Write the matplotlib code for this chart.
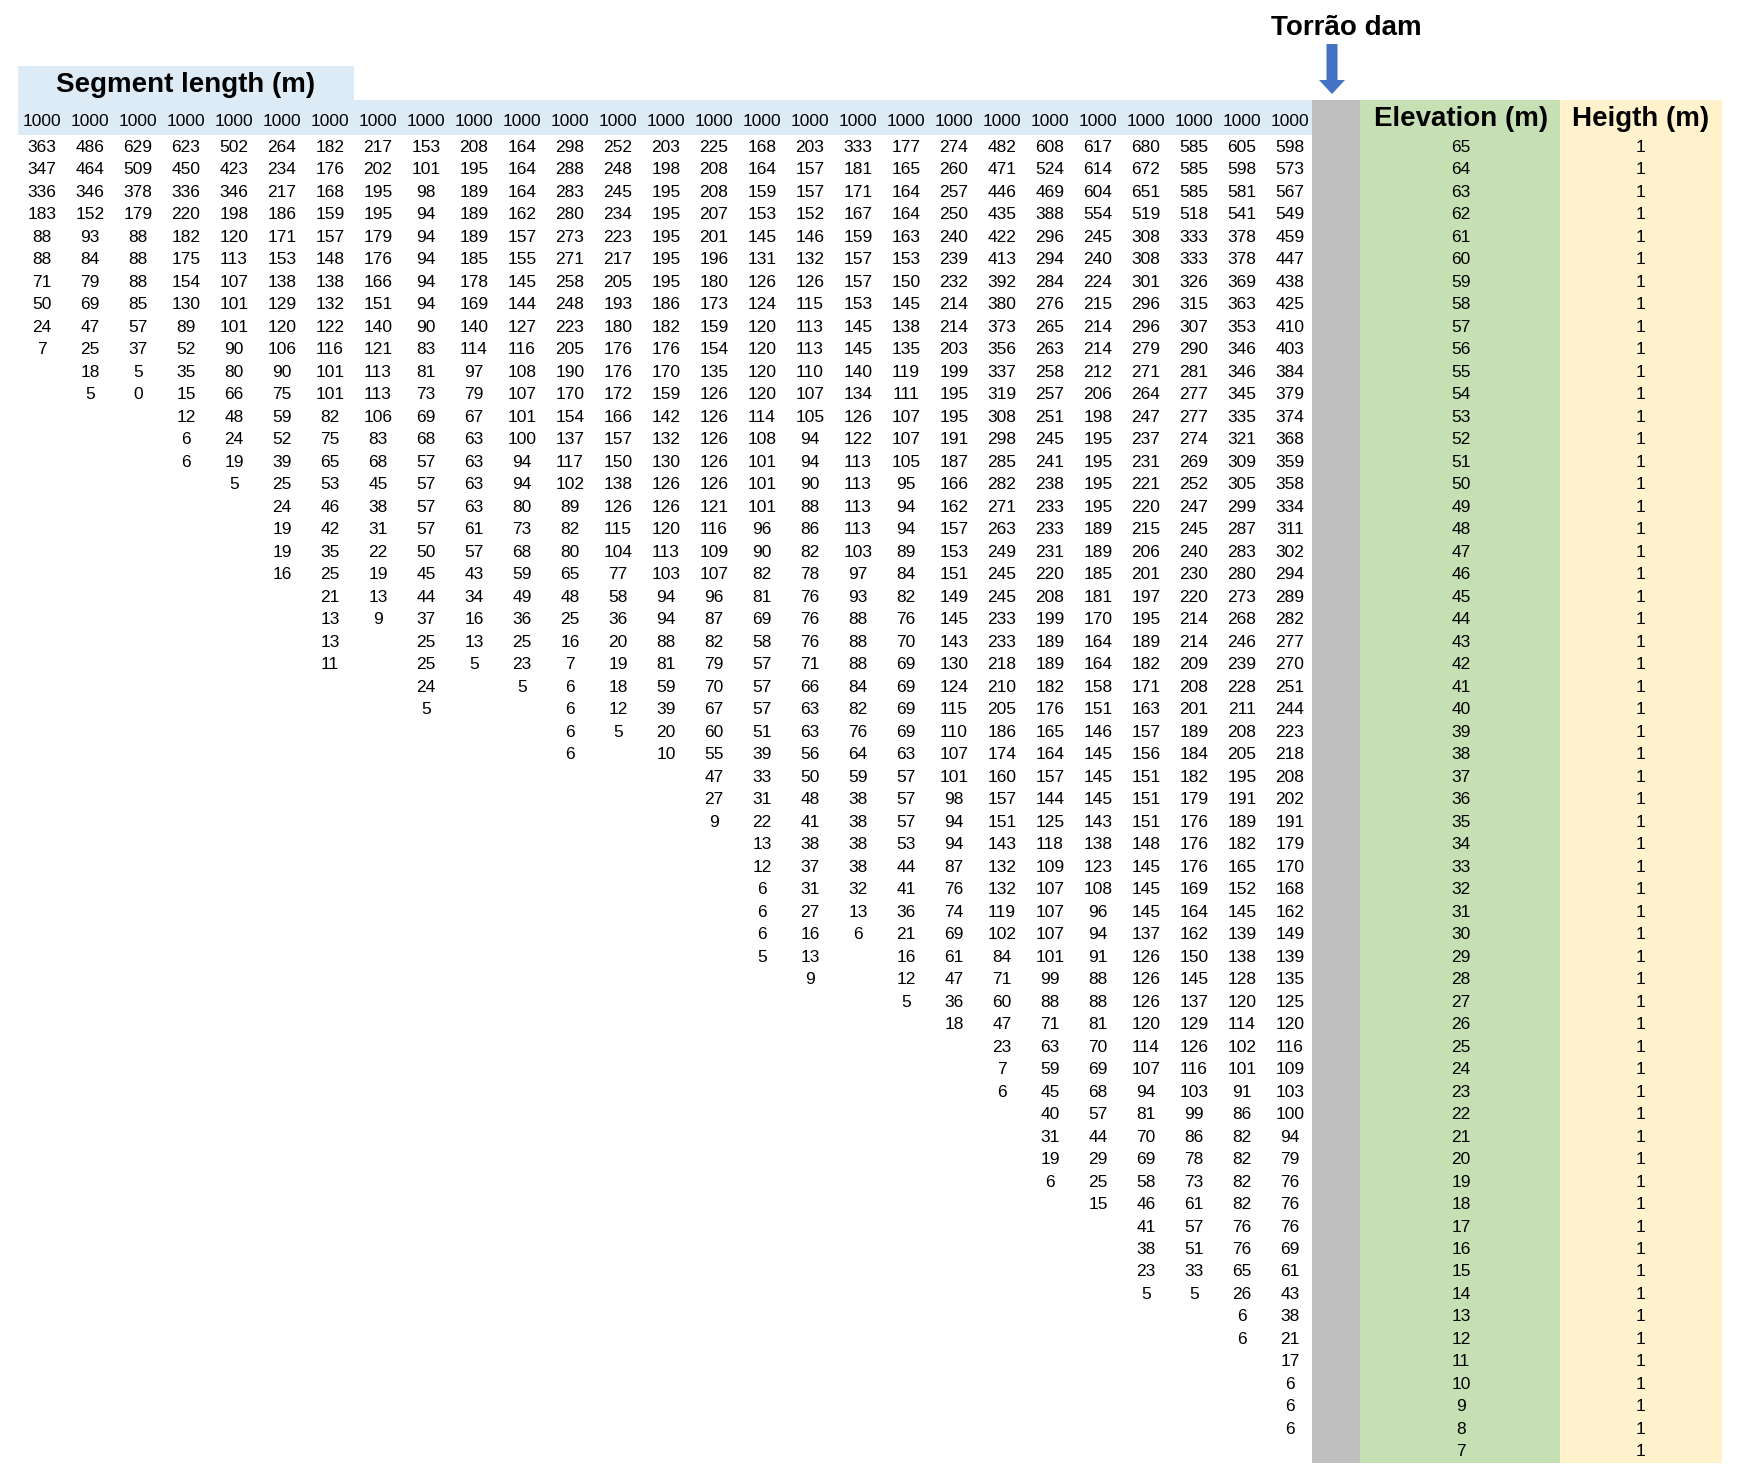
import matplotlib.pyplot as plt
from matplotlib.patches import Rectangle, FancyArrow
from matplotlib import transforms

plt.rcParams["font.family"] = ["Liberation Sans", "DejaVu Sans"]

# --- 데이터: 각 열(구간)의 segment length (m), 위(표고 65 m)부터 아래로 ---
seg01 = [363, 347, 336, 183, 88, 88, 71, 50, 24, 7]
seg02 = [486, 464, 346, 152, 93, 84, 79, 69, 47, 25, 18, 5]
seg03 = [629, 509, 378, 179, 88, 88, 88, 85, 57, 37, 5, 0]
seg04 = [623, 450, 336, 220, 182, 175, 154, 130, 89, 52, 35, 15, 12, 6, 6]
seg05 = [502, 423, 346, 198, 120, 113, 107, 101, 101, 90, 80, 66, 48, 24, 19, 5]
seg06 = [264, 234, 217, 186, 171, 153, 138, 129, 120, 106, 90, 75, 59, 52, 39, 25,
         24, 19, 19, 16]
seg07 = [182, 176, 168, 159, 157, 148, 138, 132, 122, 116, 101, 101, 82, 75, 65, 53,
         46, 42, 35, 25, 21, 13, 13, 11]
seg08 = [217, 202, 195, 195, 179, 176, 166, 151, 140, 121, 113, 113, 106, 83, 68, 45,
         38, 31, 22, 19, 13, 9]
seg09 = [153, 101, 98, 94, 94, 94, 94, 94, 90, 83, 81, 73, 69, 68, 57, 57, 57, 57, 50,
         45, 44, 37, 25, 25, 24, 5]
seg10 = [208, 195, 189, 189, 189, 185, 178, 169, 140, 114, 97, 79, 67, 63, 63, 63, 63,
         61, 57, 43, 34, 16, 13, 5]
seg11 = [164, 164, 164, 162, 157, 155, 145, 144, 127, 116, 108, 107, 101, 100, 94, 94,
         80, 73, 68, 59, 49, 36, 25, 23, 5]
seg12 = [298, 288, 283, 280, 273, 271, 258, 248, 223, 205, 190, 170, 154, 137, 117, 102,
         89, 82, 80, 65, 48, 25, 16, 7, 6, 6, 6, 6]
seg13 = [252, 248, 245, 234, 223, 217, 205, 193, 180, 176, 176, 172, 166, 157, 150, 138,
         126, 115, 104, 77, 58, 36, 20, 19, 18, 12, 5]
seg14 = [203, 198, 195, 195, 195, 195, 195, 186, 182, 176, 170, 159, 142, 132, 130, 126,
         126, 120, 113, 103, 94, 94, 88, 81, 59, 39, 20, 10]
seg15 = [225, 208, 208, 207, 201, 196, 180, 173, 159, 154, 135, 126, 126, 126, 126, 126,
         121, 116, 109, 107, 96, 87, 82, 79, 70, 67, 60, 55, 47, 27, 9]
seg16 = [168, 164, 159, 153, 145, 131, 126, 124, 120, 120, 120, 120, 114, 108, 101, 101,
         101, 96, 90, 82, 81, 69, 58, 57, 57, 57, 51, 39, 33, 31, 22, 13, 12, 6, 6, 6, 5]
seg17 = [203, 157, 157, 152, 146, 132, 126, 115, 113, 113, 110, 107, 105, 94, 94, 90,
         88, 86, 82, 78, 76, 76, 76, 71, 66, 63, 63, 56, 50, 48, 41, 38, 37, 31, 27, 16,
         13, 9]
seg18 = [333, 181, 171, 167, 159, 157, 157, 153, 145, 145, 140, 134, 126, 122, 113, 113,
         113, 113, 103, 97, 93, 88, 88, 88, 84, 82, 76, 64, 59, 38, 38, 38, 38, 32, 13, 6]
seg19 = [177, 165, 164, 164, 163, 153, 150, 145, 138, 135, 119, 111, 107, 107, 105, 95,
         94, 94, 89, 84, 82, 76, 70, 69, 69, 69, 69, 63, 57, 57, 57, 53, 44, 41, 36, 21,
         16, 12, 5]
seg20 = [274, 260, 257, 250, 240, 239, 232, 214, 214, 203, 199, 195, 195, 191, 187, 166,
         162, 157, 153, 151, 149, 145, 143, 130, 124, 115, 110, 107, 101, 98, 94, 94, 87,
         76, 74, 69, 61, 47, 36, 18]
seg21 = [482, 471, 446, 435, 422, 413, 392, 380, 373, 356, 337, 319, 308, 298, 285, 282,
         271, 263, 249, 245, 245, 233, 233, 218, 210, 205, 186, 174, 160, 157, 151, 143,
         132, 132, 119, 102, 84, 71, 60, 47, 23, 7, 6]
seg22 = [608, 524, 469, 388, 296, 294, 284, 276, 265, 263, 258, 257, 251, 245, 241, 238,
         233, 233, 231, 220, 208, 199, 189, 189, 182, 176, 165, 164, 157, 144, 125, 118,
         109, 107, 107, 107, 101, 99, 88, 71, 63, 59, 45, 40, 31, 19, 6]
seg23 = [617, 614, 604, 554, 245, 240, 224, 215, 214, 214, 212, 206, 198, 195, 195, 195,
         195, 189, 189, 185, 181, 170, 164, 164, 158, 151, 146, 145, 145, 145, 143, 138,
         123, 108, 96, 94, 91, 88, 88, 81, 70, 69, 68, 57, 44, 29, 25, 15]
seg24 = [680, 672, 651, 519, 308, 308, 301, 296, 296, 279, 271, 264, 247, 237, 231, 221,
         220, 215, 206, 201, 197, 195, 189, 182, 171, 163, 157, 156, 151, 151, 151, 148,
         145, 145, 145, 137, 126, 126, 126, 120, 114, 107, 94, 81, 70, 69, 58, 46, 41, 38,
         23, 5]
seg25 = [585, 585, 585, 518, 333, 333, 326, 315, 307, 290, 281, 277, 277, 274, 269, 252,
         247, 245, 240, 230, 220, 214, 214, 209, 208, 201, 189, 184, 182, 179, 176, 176,
         176, 169, 164, 162, 150, 145, 137, 129, 126, 116, 103, 99, 86, 78, 73, 61, 57, 51,
         33, 5]
seg26 = [605, 598, 581, 541, 378, 378, 369, 363, 353, 346, 346, 345, 335, 321, 309, 305,
         299, 287, 283, 280, 273, 268, 246, 239, 228, 211, 208, 205, 195, 191, 189, 182,
         165, 152, 145, 139, 138, 128, 120, 114, 102, 101, 91, 86, 82, 82, 82, 82, 76, 76,
         65, 26, 6, 6]
seg27 = [598, 573, 567, 549, 459, 447, 438, 425, 410, 403, 384, 379, 374, 368, 359, 358,
         334, 311, 302, 294, 289, 282, 277, 270, 251, 244, 223, 218, 208, 202, 191, 179,
         170, 168, 162, 149, 139, 135, 125, 120, 116, 109, 103, 100, 94, 79, 76, 76, 76, 69,
         61, 43, 38, 21, 17, 6, 6, 6]

columns = [seg01, seg02, seg03, seg04, seg05, seg06, seg07, seg08, seg09, seg10,
           seg11, seg12, seg13, seg14, seg15, seg16, seg17, seg18, seg19, seg20,
           seg21, seg22, seg23, seg24, seg25, seg26, seg27]

# 각 열 머리의 구간 길이
header_lengths = [1000, 1000, 1000, 1000, 1000, 1000, 1000, 1000, 1000, 1000,
                  1000, 1000, 1000, 1000, 1000, 1000, 1000, 1000, 1000, 1000,
                  1000, 1000, 1000, 1000, 1000, 1000, 1000]

elevation = [65, 64, 63, 62, 61, 60, 59, 58, 57, 56, 55, 54, 53, 52, 51, 50, 49, 48,
             47, 46, 45, 44, 43, 42, 41, 40, 39, 38, 37, 36, 35, 34, 33, 32, 31, 30,
             29, 28, 27, 26, 25, 24, 23, 22, 21, 20, 19, 18, 17, 16, 15, 14, 13, 12,
             11, 10, 9, 8, 7]
height = [1, 1, 1, 1, 1, 1, 1, 1, 1, 1, 1, 1, 1, 1, 1, 1, 1, 1, 1, 1,
          1, 1, 1, 1, 1, 1, 1, 1, 1, 1, 1, 1, 1, 1, 1, 1, 1, 1, 1, 1,
          1, 1, 1, 1, 1, 1, 1, 1, 1, 1, 1, 1, 1, 1, 1, 1, 1, 1, 1]

# --- 레이아웃 (픽셀) ---
W, H = 1740, 1482
COL1_X, COL_PITCH = 42, 48.0
ROW1_Y, ROW_PITCH = 147.5, 22.49

fig = plt.figure(figsize=(W / 100, H / 100), dpi=100)

# 배경용 축: 픽셀 좌표 (y는 위에서 아래로)
bg = fig.add_axes([0, 0, 1, 1])
bg.set_xlim(0, W)
bg.set_ylim(H, 0)
bg.axis("off")

# 표 본문용 축: x = 열 번호, y = 표고(m)
ax = fig.add_axes([0, 0, 1, 1])
ax.set_xlim(1 - COL1_X / COL_PITCH, 1 + (W - COL1_X) / COL_PITCH)
ax.set_ylim(65 - (H - ROW1_Y) / ROW_PITCH, 65 + ROW1_Y / ROW_PITCH)
ax.axis("off")
ax.patch.set_alpha(0)

# 배경 띠
blue, gray, green, yellow = "#DDEBF7", "#BFBFBF", "#C6E0B4", "#FFF2CC"
bg.add_patch(Rectangle((18, 66), 336, 34, color=blue, lw=0))
bg.add_patch(Rectangle((18, 100), 1294, 35, color=blue, lw=0))
bg.add_patch(Rectangle((1312, 100), 48, 1363, color=gray, lw=0))
bg.add_patch(Rectangle((1360, 100), 200, 1363, color=green, lw=0))
bg.add_patch(Rectangle((1560, 100), 162, 1363, color=yellow, lw=0))

# 댐 위치 화살표
bg.add_patch(FancyArrow(1332, 44, 0, 50, width=11, head_width=26, head_length=14,
                        length_includes_head=True, color="#4472C4", lw=0))

title_kw = dict(fontsize=20, fontweight="bold", ha="center", va="center", color="black")
bg.text(1346, 28, "Torrão dam", **title_kw)
bg.text(186, 85, "Segment length (m)", **title_kw)
bg.text(1461, 119, "Elevation (m)", **title_kw)
bg.text(1641, 119, "Heigth (m)", **title_kw)

num_kw = dict(fontsize=12.5, ha="center", va="center", color="black")

# 구간 길이 머리행
hdr = transforms.blended_transform_factory(ax.transData, bg.transData)
for c, v in enumerate(header_lengths, start=1):
    ax.text(c, 122, str(v), transform=hdr, **num_kw)

# 표 본문: 각 열은 표고 65 m부터 아래로 채워짐
for c, col in enumerate(columns, start=1):
    for j, v in enumerate(col):
        ax.text(c, elevation[j], str(v), **num_kw)

# 표고 / 높이 열
side = transforms.blended_transform_factory(bg.transData, ax.transData)
for e, h in zip(elevation, height):
    ax.text(1461, e, str(e), transform=side, **num_kw)
    ax.text(1641, e, str(h), transform=side, **num_kw)

fig.savefig("out.png", dpi=100)
